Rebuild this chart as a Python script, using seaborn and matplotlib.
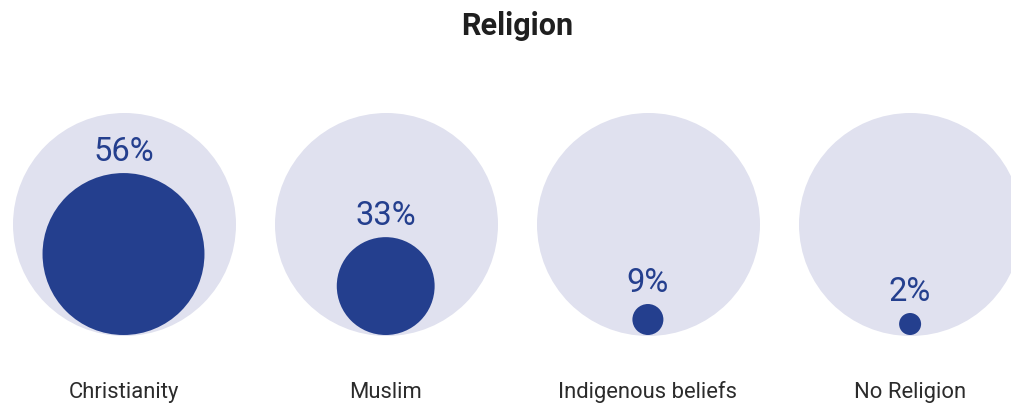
import matplotlib
matplotlib.use("Agg")
import matplotlib.pyplot as plt
import seaborn as sns
import numpy as np
import pandas as pd

# Data
categories = ["Christianity", "Muslim", "Indigenous beliefs", "No Religion"]
shares = [56, 33, 9, 2]
value_labels = ["56%", "33%", "9%", "2%"]
title = "Religion"

sns.set_theme(style="white")
plt.rcParams["font.family"] = ["Roboto", "DejaVu Sans"]

DPI = 100
W, H = 1011, 408
fig = plt.figure(figsize=(W / DPI, H / DPI), dpi=DPI)
ax = fig.add_axes([0, 0, 1, 1])

# Layout, in pixel units of the canvas
x0, step = 123.5, 262.2
outer_r = 111.5
outer_cy = 223.5
floor_y = outer_cy + outer_r          # bubbles rest on the bottom of the disc
label_gap = 11.7

light = "#e0e1ef"
dark = "#243f8e"


def bubble_radius(v):
    # linear radius scale with a minimum visible size
    return max(2.96 + 1.393 * v, 11.0)


px_to_pt = 72 / DPI


def marker_area(r):
    return (2 * r * px_to_pt) ** 2


df = pd.DataFrame({"category": categories, "share": shares, "label": value_labels})
df["x"] = x0 + step * np.arange(len(df))
df["r"] = df["share"].map(bubble_radius)
df["y"] = floor_y - df["r"]
df["outer_y"] = outer_cy

# background discs
sns.scatterplot(data=df, x="x", y="outer_y", s=marker_area(outer_r),
                color=light, linewidth=0, ax=ax, legend=False, zorder=1)

# value bubbles
sizes = {v: marker_area(r) for v, r in zip(df["share"], df["r"])}
sns.scatterplot(data=df, x="x", y="y", size="share", sizes=sizes,
                color=dark, linewidth=0, ax=ax, legend=False, zorder=2)

for _, row in df.iterrows():
    top = floor_y - 2 * row["r"]
    ax.text(row["x"], top - label_gap, row["label"], ha="center", va="baseline",
            fontsize=23.5, color=dark, zorder=3)
    ax.text(row["x"], 398, row["category"], ha="center", va="baseline",
            fontsize=15.8, color="#2b2b2b", zorder=3)

ax.text(517, 35, title, ha="center", va="baseline", fontsize=22,
        fontweight="bold", color="#1f1f1f")

ax.set_xlim(0, W)
ax.set_ylim(H, 0)
ax.axis("off")

fig.savefig("out.png", dpi=DPI, facecolor="white")
